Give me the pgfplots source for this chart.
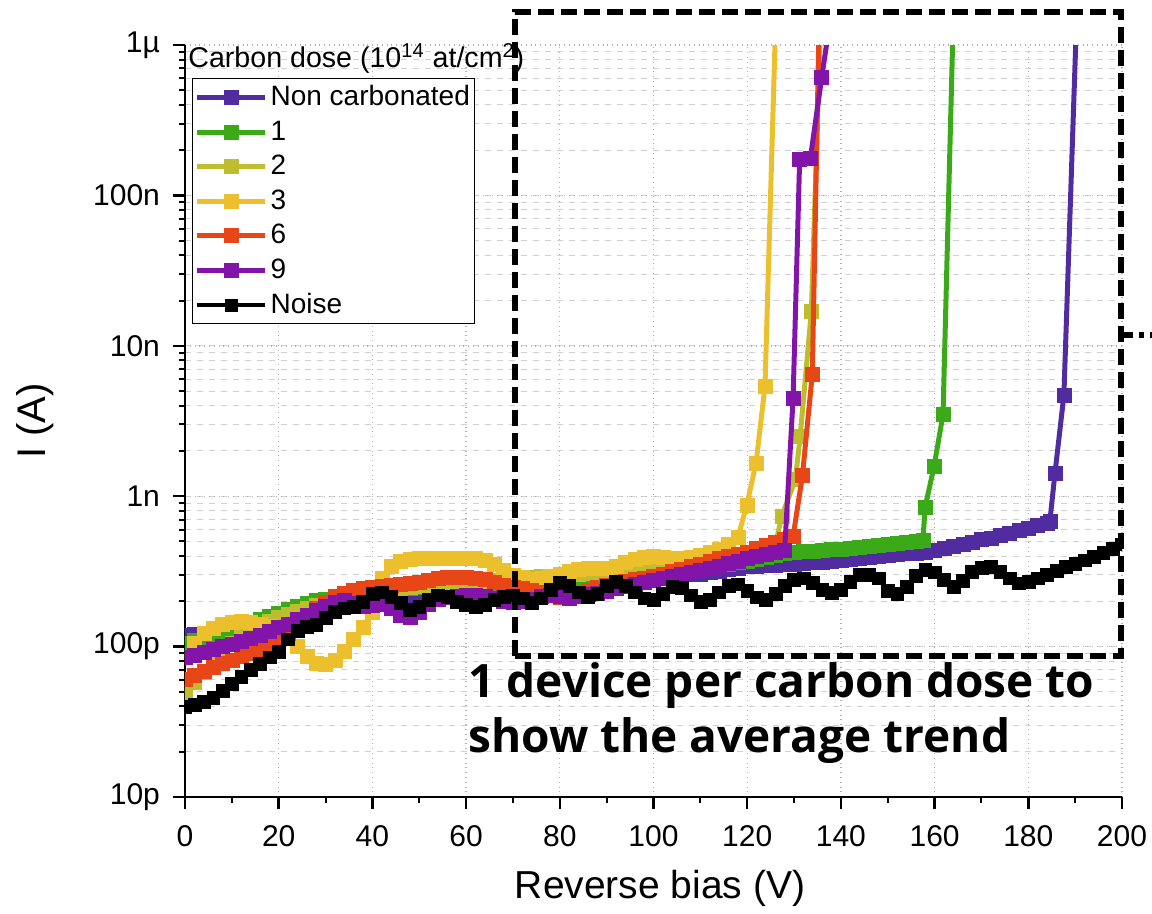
\documentclass[border=0pt]{standalone}
\usepackage{fontspec}
\setmainfont{Liberation Sans}
\newfontfamily\annfont{Open Sans}
\usepackage{pgfplots}
\pgfplotsset{compat=1.18}
\definecolor{cNC}{RGB}{81,43,160}
\definecolor{cOne}{RGB}{58,170,25}
\definecolor{cTwo}{RGB}{190,189,45}
\definecolor{cThree}{RGB}{236,192,45}
\definecolor{cSix}{RGB}{232,70,22}
\definecolor{cNine}{RGB}{130,20,170}
\tikzset{dev/.style={color=#1, line width=2.5pt, mark=square*, mark size=3.5pt, mark options={solid, line width=0.2pt}}}
\begin{document}
\begin{tikzpicture}
\path[use as bounding box] (-92.5pt,-58.5pt) rectangle (483.5pt,398.5pt);
\begin{axis}[
  at={(0pt,0pt)}, anchor=south west,
  scale only axis, width=468.5pt, height=376pt,
  xmin=0, xmax=200, ymin=1e-11, ymax=1e-6, ymode=log,
  axis x line*=bottom, axis y line*=left,
  axis line style={line width=1.2pt, black},
  xtick={0,20,...,200}, minor x tick num=1,
  ytick={1e-11,1e-10,1e-9,1e-8,1e-7,1e-6},
  yticklabels={10p,100p,1n,10n,100n,1µ},
  tick align=outside, major tick length=6pt, minor tick length=3pt,
  tick style={black, line width=1.2pt},
  minor tick style={line width=1pt},
  xmajorgrids, ymajorgrids, yminorgrids,
  major grid style={draw=gray!60, dotted, line width=0.7pt},
  minor grid style={draw=gray!35, dashed, line width=0.5pt},
  /pgf/number format/assume math mode=true,
  tick label style={font=\fontsize{15}{18}\selectfont},
  xticklabel style={yshift=-4.5pt},
  yticklabel style={xshift=-3pt},
  xlabel={Reverse bias (V)}, ylabel={I (A)},
  every axis x label/.style={at={(axis description cs:0.507,-0.122)}, anchor=center, font=\fontsize{19.5}{23}\selectfont},
  every axis y label/.style={at={(axis description cs:-0.16,0.5)}, anchor=center, rotate=90, font=\fontsize{20}{23}\selectfont},
  clip marker paths=true,
  legend style={at={(rel axis cs:0.0075,0.956)}, anchor=north west, draw=black, line width=0.6pt, fill=white, font=\fontsize{14}{17}\selectfont, row sep=3pt, inner xsep=1pt, inner ysep=2pt, nodes={inner sep=1.5pt}},
  legend cell align=left,
  legend image code/.code={\draw[#1, mark repeat=2, mark phase=2] plot coordinates {(0pt,0pt) (17pt,0pt) (34pt,0pt)};},
]
% Non carbonated
\addplot[dev=cNC] table {
0 120e-12
2 121e-12
4 123e-12
6 126e-12
8 130e-12
10 135e-12
12 139e-12
14 143e-12
16 147e-12
18 151e-12
20 155e-12
22 160e-12
24 165e-12
26 170e-12
28 175e-12
30 180e-12
32 184e-12
34 188e-12
36 192e-12
38 196e-12
40 200e-12
42 203e-12
44 206e-12
46 209e-12
48 212e-12
50 215e-12
52 217e-12
54 219e-12
56 221e-12
58 223e-12
60 225e-12
62 228e-12
64 231e-12
66 234e-12
68 237e-12
70 240e-12
72 243e-12
74 246e-12
76 249e-12
78 252e-12
80 255e-12
82 258e-12
84 260e-12
86 263e-12
88 265e-12
90 268e-12
92 271e-12
94 275e-12
96 278e-12
98 281e-12
100 285e-12
102 289e-12
104 293e-12
106 297e-12
108 301e-12
110 305e-12
112 311e-12
114 318e-12
116 325e-12
118 332e-12
120 340e-12
122 343e-12
124 346e-12
126 349e-12
128 352e-12
130 355e-12
132 358e-12
134 362e-12
136 366e-12
138 371e-12
140 377e-12
142 382e-12
144 389e-12
146 394e-12
148 400e-12
150 405e-12
152 410e-12
154 415e-12
156 420e-12
158 425e-12
160 438e-12
162 452e-12
164 467e-12
166 482e-12
168 498e-12
170 515e-12
172 527e-12
174 547e-12
176 568e-12
178 592e-12
180 615e-12
182 640e-12
184 665e-12
184.6 680e-12
185.7 1.43e-9
187.6 4.7e-9
190.2 1.2e-6
};
\addlegendentry{Non carbonated}
% 1
\addplot[dev=cOne] table {
0 106e-12
2 110e-12
4 115e-12
6 120e-12
8 126e-12
10 132e-12
12 138e-12
14 145e-12
16 152e-12
18 160e-12
20 168e-12
22 176e-12
24 185e-12
26 195e-12
28 203e-12
30 208e-12
32 213e-12
34 218e-12
36 222e-12
38 226e-12
40 230e-12
42 234e-12
44 238e-12
46 241e-12
48 244e-12
50 247e-12
52 249e-12
54 251e-12
56 253e-12
58 255e-12
60 257e-12
62 259e-12
64 261e-12
66 262e-12
68 264e-12
70 265e-12
72 267e-12
74 268e-12
76 270e-12
78 272e-12
80 274e-12
82 276e-12
84 278e-12
86 281e-12
88 284e-12
90 287e-12
92 290e-12
94 294e-12
96 298e-12
98 302e-12
100 306e-12
102 311e-12
104 316e-12
106 321e-12
108 327e-12
110 333e-12
112 339e-12
114 346e-12
116 354e-12
118 362e-12
120 370e-12
122 380e-12
124 392e-12
126 405e-12
128 415e-12
130 424e-12
132 428e-12
134 432e-12
136 436e-12
138 441e-12
140 446e-12
142 451e-12
144 461e-12
146 467e-12
148 473e-12
150 479e-12
152 486e-12
154 493e-12
156 502e-12
157.5 512e-12
158 850e-12
159.9 1.59e-9
161.8 3.5e-9
163.9 1.2e-6
};
\addlegendentry{1}
% 2
\addplot[dev=cTwo] table {
0 50e-12
2 58e-12
4 68e-12
6 80e-12
8 93e-12
10 105e-12
12 117e-12
14 128e-12
16 138e-12
18 148e-12
20 157e-12
22 165e-12
24 172e-12
26 180e-12
28 188e-12
30 196e-12
32 203e-12
34 210e-12
36 217e-12
38 223e-12
40 229e-12
42 234e-12
44 239e-12
46 243e-12
48 247e-12
50 251e-12
52 254e-12
54 257e-12
56 260e-12
58 263e-12
60 266e-12
62 269e-12
64 272e-12
66 275e-12
68 279e-12
70 283e-12
72 287e-12
74 290e-12
76 293e-12
78 296e-12
80 299e-12
82 302e-12
84 305e-12
86 308e-12
88 311e-12
90 315e-12
92 319e-12
94 323e-12
96 327e-12
98 331e-12
100 335e-12
102 340e-12
104 345e-12
106 350e-12
108 356e-12
110 362e-12
112 370e-12
114 380e-12
116 392e-12
118 405e-12
120 420e-12
122 437e-12
124 455e-12
126 475e-12
127.4 740e-12
130.3 1.3e-9
131.3 2.5e-9
133.7 17e-9
135.6 1.2e-6
};
\addlegendentry{2}
% 3
\addplot[dev=cThree] table {
0 85e-12
2 105e-12
4 122e-12
6 133e-12
8 140e-12
10 145e-12
12 147e-12
14 146e-12
16 142e-12
18 137e-12
20 130e-12
22 116e-12
24 100e-12
26 87e-12
28 78e-12
30 76e-12
32 81e-12
34 93e-12
36 112e-12
38 135e-12
40 170e-12
41 230e-12
42 285e-12
44 345e-12
46 372e-12
48 383e-12
50 388e-12
52 390e-12
54 390e-12
56 390e-12
58 390e-12
60 388e-12
62 385e-12
64 375e-12
66 352e-12
68 322e-12
70 300e-12
72 288e-12
74 280e-12
76 283e-12
78 292e-12
80 305e-12
82 318e-12
84 328e-12
86 333e-12
88 332e-12
90 333e-12
92 344e-12
94 362e-12
96 380e-12
98 392e-12
100 398e-12
102 395e-12
104 390e-12
106 388e-12
108 395e-12
110 408e-12
112 424e-12
114 445e-12
116 478e-12
118 530e-12
119.9 870e-12
121.9 1.67e-9
123.8 5.4e-9
126 1.2e-6
};
\addlegendentry{3}
% 6
\addplot[dev=cSix] table {
0 61e-12
2 65e-12
4 69e-12
6 73e-12
8 77e-12
10 81e-12
12 86e-12
14 91e-12
16 96e-12
18 103e-12
20 111e-12
22 122e-12
24 138e-12
26 158e-12
28 180e-12
30 198e-12
32 215e-12
34 228e-12
36 238e-12
38 245e-12
40 250e-12
42 254e-12
44 258e-12
46 262e-12
48 265e-12
50 270e-12
52 277e-12
54 284e-12
56 290e-12
58 291e-12
60 290e-12
62 287e-12
64 280e-12
66 270e-12
68 258e-12
70 250e-12
72 243e-12
74 236e-12
76 230e-12
78 222e-12
80 212e-12
82 212e-12
84 222e-12
86 238e-12
88 250e-12
90 258e-12
92 265e-12
94 272e-12
96 280e-12
98 287e-12
100 295e-12
102 304e-12
104 315e-12
106 326e-12
108 340e-12
110 355e-12
112 370e-12
114 385e-12
116 400e-12
118 412e-12
120 425e-12
122 450e-12
124 475e-12
126 495e-12
128 515e-12
129.8 540e-12
131.8 1.38e-9
133.9 6.5e-9
135.3 1.2e-6
};
\addlegendentry{6}
% 9
\addplot[dev=cNine] table {
0 85e-12
2 88e-12
4 92e-12
6 96e-12
8 100e-12
10 104e-12
12 108e-12
14 113e-12
16 119e-12
18 126e-12
20 134e-12
22 142e-12
24 152e-12
26 163e-12
28 175e-12
30 187e-12
32 198e-12
34 203e-12
36 195e-12
38 187e-12
40 188e-12
42 190e-12
44 180e-12
46 163e-12
48 158e-12
50 170e-12
52 190e-12
54 207e-12
56 214e-12
58 218e-12
60 220e-12
62 220e-12
64 217e-12
66 210e-12
68 200e-12
70 196e-12
72 200e-12
74 208e-12
76 216e-12
78 220e-12
80 215e-12
82 210e-12
84 215e-12
86 222e-12
88 228e-12
90 235e-12
92 243e-12
94 252e-12
96 260e-12
98 268e-12
100 276e-12
102 284e-12
104 293e-12
106 302e-12
108 311e-12
110 320e-12
112 332e-12
114 344e-12
116 357e-12
118 370e-12
120 385e-12
122 400e-12
124 413e-12
126 425e-12
128 440e-12
129.8 4.5e-9
131.2 175e-9
133.5 178e-9
135.9 607e-9
137.3 1.2e-6
};
\addlegendentry{9}
% Noise
\addplot[dev=black, line width=2pt, mark size=3.2pt] table {
0 40e-12
2 41e-12
4 43e-12
6 46e-12
8 51e-12
10 57e-12
12 63e-12
14 70e-12
16 77e-12
18 85e-12
20 92e-12
22 112e-12
24 128e-12
26 135e-12
28 140e-12
30 155e-12
32 170e-12
34 180e-12
36 185e-12
38 200e-12
40 225e-12
42 230e-12
44 215e-12
46 195e-12
48 175e-12
50 185e-12
52 205e-12
54 220e-12
56 215e-12
58 200e-12
60 190e-12
62 185e-12
64 190e-12
66 205e-12
68 215e-12
70 220e-12
72 210e-12
74 195e-12
76 210e-12
78 240e-12
80 265e-12
82 255e-12
84 230e-12
86 215e-12
88 225e-12
90 255e-12
92 270e-12
94 255e-12
96 230e-12
98 210e-12
100 205e-12
102 225e-12
104 250e-12
106 245e-12
108 220e-12
110 200e-12
112 205e-12
114 230e-12
116 255e-12
118 260e-12
120 235e-12
122 213e-12
124 205e-12
126 225e-12
128 255e-12
130 277e-12
132 285e-12
134 265e-12
136 240e-12
138 227e-12
140 240e-12
142 270e-12
144 300e-12
146 300e-12
148 285e-12
150 235e-12
152 225e-12
154 250e-12
156 295e-12
158 323e-12
160 312e-12
162 280e-12
164 249e-12
166 275e-12
168 315e-12
170 334e-12
172 338e-12
174 315e-12
176 285e-12
178 264e-12
180 270e-12
182 285e-12
184 300e-12
186 318e-12
188 338e-12
190 355e-12
192 375e-12
194 394e-12
196 420e-12
198 450e-12
200 480e-12
};
\addlegendentry{Noise}
\end{axis}
\draw[line width=3pt, dash pattern=on 8pt off 3.5pt] (165pt,70.5pt) rectangle (468pt,392.5pt);
\draw[line width=3pt, dash pattern=on 6pt off 3pt on 2.5pt off 3pt] (468pt,231pt) -- (490pt,231pt);
\node[anchor=base west, inner sep=0pt, font=\annfont\bfseries\fontsize{23}{27}\selectfont] at (141.5pt,49.5pt) {1 device per carbon dose to};
\node[anchor=base west, inner sep=0pt, font=\annfont\bfseries\fontsize{23}{27}\selectfont] at (141.5pt,22pt) {show the average trend};
\node[anchor=base west, inner sep=0pt, font=\fontsize{14.3}{17}\selectfont] at (1.5pt,364.5pt) {Carbon dose (10\textsuperscript{14} at/cm\textsuperscript{2})};
\end{tikzpicture}
\end{document}
